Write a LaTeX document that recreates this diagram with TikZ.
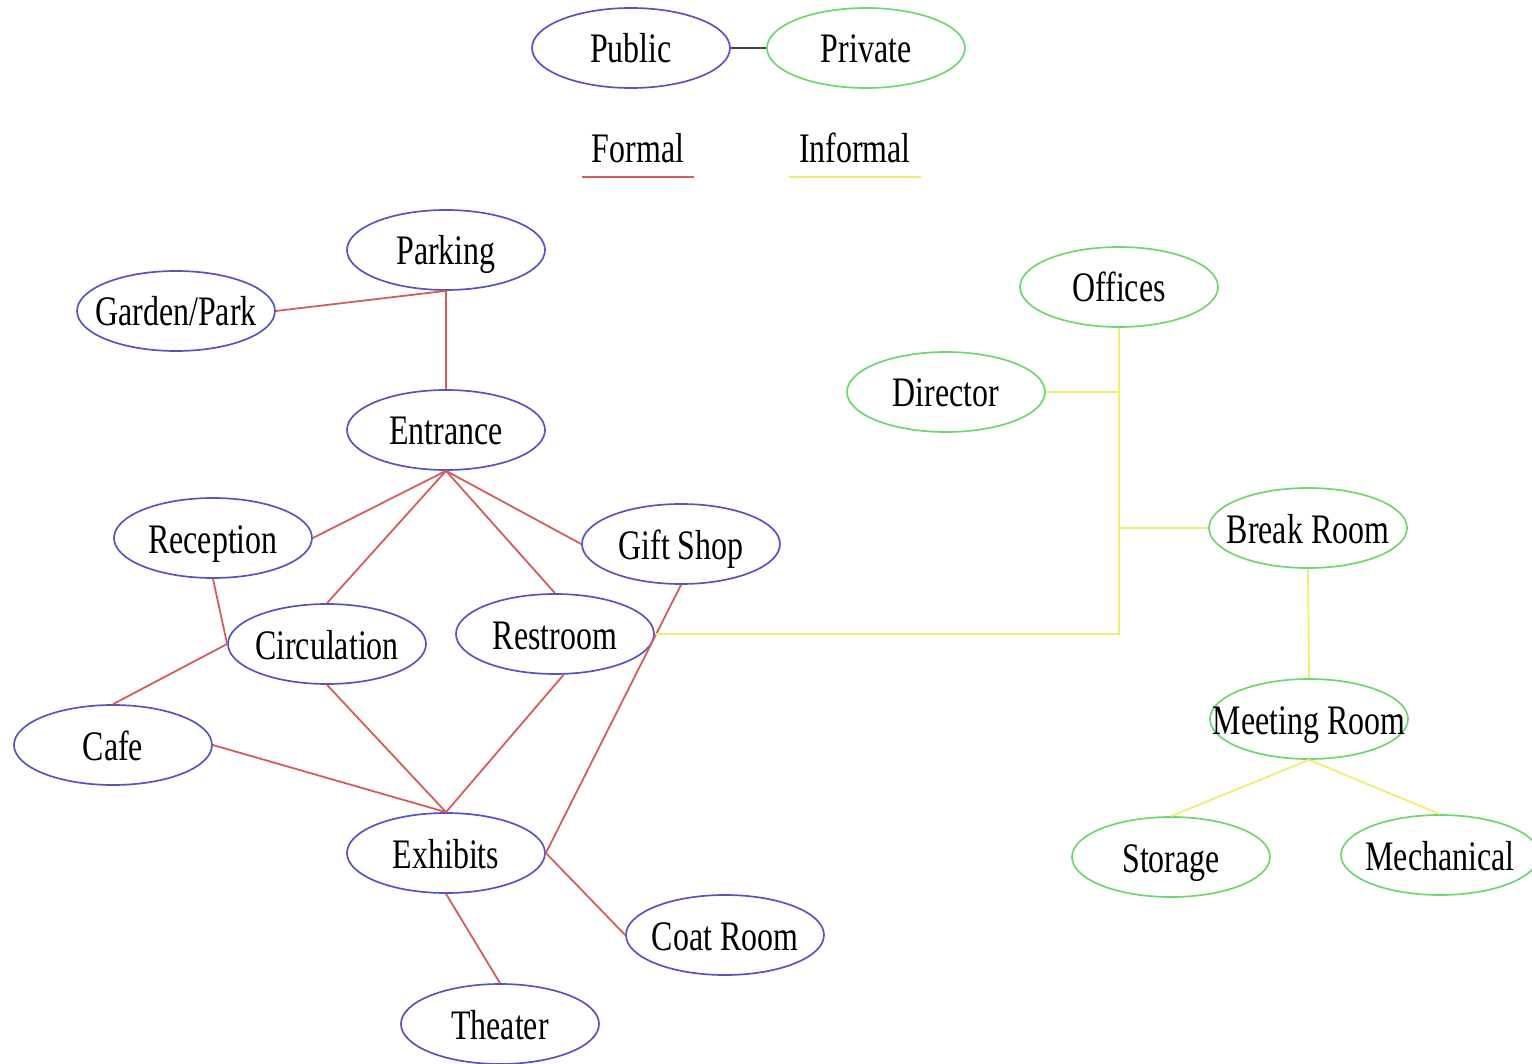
\documentclass[tikz,border=0pt]{standalone}
\usepackage{fontspec}
\setmainfont{Liberation Serif}[FakeStretch=0.76]
\usetikzlibrary{shapes.geometric}

\definecolor{pubblue}{RGB}{84,84,196}
\definecolor{privgreen}{RGB}{110,214,110}
\definecolor{formalred}{RGB}{214,92,92}
\definecolor{informalyellow}{RGB}{240,238,110}

\begin{document}
\begin{tikzpicture}[x=1pt,y=-1pt,line width=1.8pt]
  \tikzstyle{room}=[ellipse,draw,line width=1.7pt,minimum width=198pt,minimum height=80pt,inner xsep=-40pt,inner ysep=0pt,text height=30pt,text depth=0pt,font=\fontsize{42}{46}\selectfont]
  \tikzstyle{pub}=[room,draw=pubblue]
  \tikzstyle{priv}=[room,draw=privgreen]
  \tikzstyle{keytext}=[inner xsep=9pt,inner ysep=13pt,text height=30pt,text depth=0pt,font=\fontsize{42}{46}\selectfont]
  \tikzstyle{formal}=[draw=formalred]
  \tikzstyle{informal}=[draw=informalyellow]
  \useasboundingbox (0,0) rectangle (1532,1064);

  % legend
  \node[pub] (public) at (631,48) {Public};
  \node[priv] (private) at (866,48) {Private};
  \draw[black!75] (public) -- (private);
  \node[keytext] (formalkey) at (638,148) {Formal};
  \node[keytext] (informalkey) at (855,148) {Informal};
  \draw[formal] (formalkey.south west) -- (formalkey.south east);
  \draw[informal] (informalkey.south west) -- (informalkey.south east);

  % public rooms
  \node[pub] (parking) at (446,250) {Parking};
  \node[pub] (garden) at (176,311) {Garden/Park};
  \node[pub] (entrance) at (446,430) {Entrance};
  \node[pub] (reception) at (213,538) {Reception};
  \node[pub] (giftshop) at (681,544) {Gift Shop};
  \node[pub] (circulation) at (327,644) {Circulation};
  \node[pub] (restroom) at (555,634) {Restroom};
  \node[pub] (cafe) at (113,745) {Cafe};
  \node[pub] (exhibits) at (446,853) {Exhibits};
  \node[pub] (coatroom) at (725,935) {Coat Room};
  \node[pub] (theater) at (500,1024) {Theater};

  % private rooms
  \node[priv] (offices) at (1119,287) {Offices};
  \node[priv] (director) at (946,392) {Director};
  \node[priv] (breakroom) at (1308,528) {Break Room};
  \node[priv] (meeting) at (1309,719) {Meeting Room};
  \node[priv] (storage) at (1171,857) {Storage};
  \node[priv] (mechanical) at (1440,855) {Mechanical};

  % formal links
  \draw[formal] (parking.south) -- (garden.east);
  \draw[formal] (parking.south) -- (entrance.north);
  \draw[formal] (entrance.south) -- (reception.east);
  \draw[formal] (entrance.south) -- (circulation.north);
  \draw[formal] (entrance.south) -- (restroom.north);
  \draw[formal] (entrance.south) -- (giftshop.west);
  \draw[formal] (reception.south) -- (circulation.west);
  \draw[formal] (circulation.west) -- (cafe.north);
  \draw[formal] (cafe.east) -- (exhibits.north);
  \draw[formal] (circulation.south) -- (exhibits.north);
  \draw[formal] (restroom.-78) -- (exhibits.north);
  \draw[formal] (giftshop.south) -- (exhibits.east);
  \draw[formal] (exhibits.east) -- (coatroom.west);
  \draw[formal] (exhibits.south) -- (theater.north);

  % informal links
  \draw[informal] (restroom.east) -| (offices.south);
  \draw[informal] (director.east) -- (director.east -| offices.south);
  \draw[informal] (breakroom.west) -- (breakroom.west -| offices.south);
  \draw[informal] (breakroom.south) -- (meeting.north);
  \draw[informal] (meeting.south) -- (storage.north);
  \draw[informal] (meeting.south) -- (mechanical.north);
\end{tikzpicture}
\end{document}
